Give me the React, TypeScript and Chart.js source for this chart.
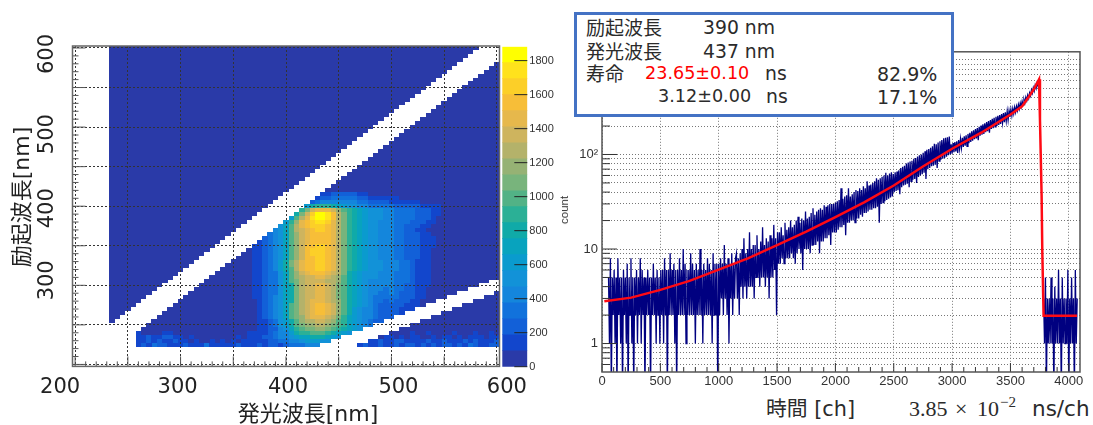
import React, { useEffect, useRef } from "react";
import { Chart, registerables } from "chart.js";

Chart.register(...registerables);

const SANS = '"DejaVu Sans","Noto Sans CJK JP",sans-serif';
const ROOT_FONT = '"Liberation Sans",Arial,sans-serif';

// ---------- left panel: excitation / emission map ----------
const mapTicks = [200, 250, 300, 350, 400, 450, 500, 550, 600];
const mapMinorTicks = [210, 220, 230, 240, 260, 270, 280, 290, 310, 320, 330, 340, 360, 370, 380, 390, 410, 420, 430, 440, 460, 470, 480, 490, 510, 520, 530, 540, 560, 570, 580, 590];
const mapXLabels = [200, 300, 400, 500, 600];
const mapXLabelShift = [-15, -3, 2, 7, 10];
const mapYLabels = [300, 400, 500, 600];
const mapYLabelShift = [-5, 2, 7, 6];
const mapXTitle = "発光波長[nm]";
const mapYTitle = "励起波長[nm]";

const levelColors = ["#2A3AA8", "#1246CC", "#1260D8", "#1172DC", "#1486DC", "#1292D8", "#0A9BCE", "#08A3BE", "#10AAA8", "#2BB096", "#52B286", "#78B47C", "#96B274", "#B4B26A", "#CEB45E", "#E6B84C", "#F7BE38", "#FCCF28", "#FFE21C", "#FFFF00"];
const colorbarEdges = [0, 94, 188, 282, 376, 470, 565, 659, 753, 847, 941, 1035, 1129, 1223, 1317, 1411, 1506, 1600, 1694, 1788, 1882];
const colorbarTicks = [0, 200, 400, 600, 800, 1000, 1200, 1400, 1600, 1800];

// rows where the map is flat: excitation, and where the empty diagonal band starts
const flatRowNm = [420, 425, 430, 435, 440, 445, 450, 455, 460, 465, 470, 475, 480, 485, 490, 495, 500, 505, 510, 515, 520, 525, 530, 535, 540, 545, 550, 555, 560, 565, 570, 575, 580, 585, 590, 595, 600];
const flatRowGapNm = [405, 410, 415, 420, 425, 430, 435, 440, 445, 450, 455, 460, 465, 470, 475, 480, 485, 490, 495, 500, 505, 510, 515, 520, 525, 530, 535, 540, 545, 550, 555, 560, 565, 570, 575, 580, 585];

// rows with signal: colour step per 5 nm bin from 200 nm, "." = no data, groups of 50 nm
const heatRowNm = [415, 410, 405, 400, 395, 390, 385, 380, 375, 370, 365, 360, 355, 350, 345, 340, 335, 330, 325, 320, 315, 310, 305, 300, 295, 290, 285, 280, 275, 270, 265, 260, 255, 250, 245, 240, 235, 230, 225];
const heatRows = [
  ".......000 0000000000 0000000000 0000000000 .......112 2222110000 0000000000 0000000000 0",
  ".......000 0000000000 0000000000 000000000. ......1223 3333221111 1100000000 0000000000 0",
  ".......000 0000000000 0000000000 00000000.. .....23444 4444332222 1111110000 0000000000 0",
  ".......000 0000000000 0000000000 0000000... ....689998 7655443333 3222221111 0000000000 0",
  ".......000 0000000000 0000000000 000000.... ...9befffe ca98765554 4333322211 0000000000 0",
  ".......000 0000000000 0000000000 00000..... ..8behjjig db98765554 4333322211 0000000000 0",
  ".......000 0000000000 0000000000 0000...... .6adfijjig db98765554 4333322210 0000000000 0",
  ".......000 0000000000 0000000000 000....... 69cfghiihf db98765544 4333222110 0000000000 0",
  ".......000 0000000000 0000000000 00.......5 7adfghhhgf db98765544 4332221100 0000000000 0",
  ".......000 0000000000 0000000000 0.......45 7adefghhgf db98765544 4332211000 0000000000 0",
  ".......000 0000000000 0000000000 .......345 7acefggggf db98765544 4332221100 0000000000 0",
  ".......000 0000000000 000000000. ......2345 7acefggggf db98765544 4332221110 0000000000 0",
  ".......000 0000000000 00000000.. .....12345 7acefggggf db98765544 4332221110 0000000000 0",
  ".......000 0000000000 0000000... ....112345 7acegghhgf db98765544 4332221110 0000000000 0",
  ".......000 0000000000 000000.... ...0112345 7aceghhhgf db98765544 4332221100 0000000000 0",
  ".......000 0000000000 00000..... ..00112345 7aceghhhgf db98765544 4332221100 0000000000 0",
  ".......000 0000000000 0000...... .000112345 7acegghhgf db98765544 4332221100 0000000000 0",
  ".......000 0000000000 000....... 0000112346 8bdfgghhgf db98765554 4433211100 0000000000 0",
  ".......000 0000000000 00.......0 0000112346 8bdfgghhgf db98765554 4433211100 0000000000 0",
  ".......000 0000000000 0.......00 0000112346 8adfgghhgf db98765554 4433211100 0000000000 0",
  ".......000 0000000000 .......000 0000112335 7acefgggfe db87655544 4333211100 0000000000 0",
  ".......000 000000000. ......0000 0000112335 7acdeeffed ca87655544 4333211100 0000000000 0",
  ".......000 00000000.. .....00000 0000112335 7abdeeeedd ca87654444 4333211100 000000000. .",
  ".......000 0000000... ....000000 0000112335 78bdeeffed ba87654444 4332211100 0000000... .",
  ".......000 000000.... ...0000000 0000112335 78bdeeffed ba87654443 4332211000 00000..... .",
  ".......000 00000..... ..00000000 0000112335 78bdeeffed ba87654433 4322211000 000....... 0",
  ".......000 0000...... .000000000 0000112345 78bdeeffed ba87654333 3322211000 0.......00 0",
  ".......000 000....... 0000000000 0000012345 78bdefffed ca87654332 322211000. ......0000 0",
  ".......000 00.......0 0000000000 0000012345 7abdefggfe ca87654322 2221110... ....000000 0",
  ".......000 0.......00 0000000000 0000012345 7abdefggfe ca86544322 22111..... ..00000000 0",
  ".......000 .......000 0000000000 0000012345 7abdefggfe ca86544322 221....... 0000000000 0",
  ".......00. ......0000 0000000000 0000012345 7abcefffed b976544322 2.......00 0000000000 0",
  ".......0.. .....00000 0000000000 0000011235 68acddeedc a97654322. ......0000 0000000000 0",
  ".......... ....000000 0000000000 0000011235 68abccddcb a976543... ....000000 0000000000 0",
  ".......... ...0000000 0000000000 0000011224 579abbccba 98765..... ..00000000 0000000000 0",
  ".......... ..10000110 0000000000 0001111234 46899aaa98 765....... 0000100100 0010001001 0",
  ".......... ..11211221 1010000000 0101112234 4567788876 5.......01 1010110010 1101011101 1",
  ".......... ..11212112 1101001010 1011111223 344566655. ......1121 1221111211 2111212111 2",
  ".......... ..12132211 1211131111 1211121221 2333444... ....121121 1212212121 2212132112 2",
];

// ---------- right panel: fluorescence decay ----------
const decayXTicks = [0, 500, 1000, 1500, 2000, 2500, 3000, 3500, 4000];
const decayXMinor = [100, 200, 300, 400, 600, 700, 800, 900, 1100, 1200, 1300, 1400, 1600, 1700, 1800, 1900, 2100, 2200, 2300, 2400, 2600, 2700, 2800, 2900, 3100, 3200, 3300, 3400, 3600, 3700, 3800, 3900];
const decayYMajor = [1, 10, 100];
const decayYMinor = [0.6, 0.7, 0.8, 0.9, 2, 3, 4, 5, 6, 7, 8, 9, 20, 30, 40, 50, 60, 70, 80, 90, 200, 300, 400, 500, 600, 700, 800, 900, 1000];

const countsFrom56 = [5, 1, 8, .3, 5, 2, 6, 1, 5, .3, 8, 2, 5, 1, 5, .3, 6, 2, 5, 1, 7, .3, 5, 2, 8, 1, 5, .3, 5, 2, 6, 1, 5, 2, 8, 1, 6, 2, 5, .3, 5, 2, 6, 2, 5, .3, 5, 2, 7, 2, 5, 1, 6, 2, 5, 1];
const countsFrom504 = [6, 2, 6, 1, 8, 2, 6, .3, 6, 2, 9, 2, 6, 2, 7, 1, 6, .3, 6, 2, 8, 2, 6, 2, 10, 2, 7, 1, 6, 2, 6, 2, 9, 2, 7, 2, 6, 1, 7, 2, 6, 2, 10, 2, 6, 1, 7, 2, 6, 2, 8, 2, 7, 2, 6, 1, 9, 2, 7, 2, 7, .3];
const countsFrom1000 = [7, 2, 8, 3, 7, 2, 11, 3, 7, 2, 8, 1, 7, 3, 9, 2, 7, 3, 8];
const countsFrom1152 = [9, 3, 8, 2, 9, 4, 10, 3, 13, 4, 9, 3, 10, 4, 15, 4, 10, 4, 11, 3, 11, 5, 14, 5, 10, 4, 12, 5, 17, 5, 11, 4, 13, 5, 12, 3, 14, 5, 13, 5, 18, 6, 13, 2];
const countsFrom1504 = [15, 7, 15, 7, 17, 8, 14, 7, 19, 8, 16, 8, 17, 8, 20, 9, 17, 8, 18, 7, 20, 9, 22, 10, 19, 9, 21, 6, 20, 10, 25, 10, 21, 10, 22, 9, 24, 11, 27, 11, 23, 11, 25, 12, 26, 9, 27, 12, 26, 12, 29, 13, 28, 13, 29, 14, 30, 11, 30, 15, 30, 15];
const countsFrom2000 = [31, 15, 32, 16, 33, 17, 44, 17, 34, 18, 36, 14, 37, 19, 44, 19, 36, 20, 38, 20, 40, 19, 42, 21, 41, 21, 44, 23, 42, 22, 46, 24, 44, 24, 52, 25, 47, 26, 48, 26, 50, 27, 52, 27, 56, 28, 54, 19, 56, 30, 58, 31, 60, 32, 64, 33, 60, 34, 63, 35, 65, 36];
const countsFrom2496 = [62, 40, 65, 41, 66, 42, 68, 38, 72, 45, 74, 47, 76, 48, 80, 49, 82, 45, 84, 52, 86, 54, 90, 55, 92, 50, 95, 58, 98, 60, 100, 62, 104, 64, 108, 55, 112, 70, 114, 72, 118, 75, 122, 76, 130, 78, 128, 72, 134, 85, 138, 88, 142, 90, 148, 92, 150, 95, 152, 98, 155, 100];
const countsFrom2992 = [128, 102, 132, 106, 135, 108, 138, 104, 142, 115, 146, 118, 150, 120, 156, 124, 160, 122, 165, 132, 170, 136, 176, 140, 180, 145, 186, 148, 190, 142, 196, 158, 202, 162, 208, 165, 214, 172, 220, 176, 226, 170, 232, 186, 238, 190, 244, 196, 250, 200, 256, 205, 262, 210, 268, 216, 274, 220, 280, 226, 286, 232];
const countsFrom3488 = [290, 250, 300, 258, 306, 270, 316, 280, 324, 292, 338, 304, 350, 318, 366, 336, 382, 352, 404, 372, 424, 392, 448, 418, 480, 446, 510, 470, 540, 500, 570, 530, 620];
const countsFrom3784 = [3, 1, 5, .3, 3, 1, 3, 1, 5, 1, 3, .3, 4, 1, 3, 1, 6, 1, 3, .3, 5, 1, 3, 1, 3, 1, 6, .3, 3, 1, 5, 1, 3, .3, 6, 1, 3];

const fitChannels = [20, 250, 500, 750, 1000, 1250, 1500, 1750, 2000, 2250, 2500, 2750, 3000, 3250, 3500, 3600, 3650, 3700, 3745, 3753, 3767, 3773, 3784, 4070];
const fitCounts = [2.8, 3.06, 3.7, 4.6, 6.05, 7.96, 11, 15.3, 21.8, 31.3, 47, 74.6, 115, 170, 265, 324, 395, 490, 624, 234, 37, 9.3, 1.97, 1.97];

function cellSprite(color: string) {
  const c = document.createElement("canvas");
  c.width = 6;
  c.height = 5;
  const g = c.getContext("2d")!;
  g.fillStyle = color;
  g.fillRect(0, 0, 6, 5);
  Object.defineProperty(c, "width", { value: 5.5 });
  Object.defineProperty(c, "height", { value: 4.2 });
  return c;
}

function mapPoints() {
  const pts: { x: number; y: number }[][] = levelColors.map(() => []);
  flatRowNm.forEach((y, r) => {
    const gap = flatRowGapNm[r];
    for (let x = 235; x <= 600; x += 5) {
      if (x < gap || x > gap + 30) pts[0].push({ x, y });
    }
  });
  heatRowNm.forEach((y, r) => {
    Array.from(heatRows[r].replace(/ /g, "")).forEach((ch, c) => {
      if (ch !== ".") pts[parseInt(ch, 36)].push({ x: 200 + 5 * c, y });
    });
  });
  return pts;
}

// inward-pointing ROOT-style ticks and the frame
const frameTicks = {
  id: "frameTicks",
  afterDraw(chart: any, _a: any, o: any) {
    const { ctx, chartArea: a, scales } = chart;
    ctx.save();
    ctx.strokeStyle = o.color;
    ctx.lineWidth = 1;
    const line = (x1: number, y1: number, x2: number, y2: number) => {
      ctx.beginPath();
      ctx.moveTo(x1, y1);
      ctx.lineTo(x2, y2);
      ctx.stroke();
    };
    (o.xMajor || []).forEach((v: number) => { const p = scales.x.getPixelForValue(v); line(p, a.bottom, p, a.bottom - o.xMajorLen); });
    (o.xMinor || []).forEach((v: number) => { const p = scales.x.getPixelForValue(v); line(p, a.bottom, p, a.bottom - o.xMinorLen); });
    (o.yMajor || []).forEach((v: number) => { const p = scales.y.getPixelForValue(v); line(a.left, p, a.left + o.yMajorLen, p); });
    (o.yMinor || []).forEach((v: number) => { const p = scales.y.getPixelForValue(v); line(a.left, p, a.left + o.yMinorLen, p); });
    (o.rightTicks || []).forEach((v: number) => { const p = scales.y.getPixelForValue(v); line(a.right, p, a.right - o.rightLen, p); });
    if (o.frame) {
      ctx.strokeStyle = o.frame;
      ctx.lineWidth = 1.5;
      ctx.strokeRect(a.left, a.top, a.right - a.left, a.bottom - a.top);
    }
    ctx.restore();
  },
};

// the big axis labels of the map were placed by hand in the source figure
const mapText = {
  id: "mapText",
  afterDraw(chart: any) {
    const { ctx, scales: { x, y } } = chart;
    ctx.save();
    ctx.fillStyle = "#222";
    ctx.textAlign = "center";
    ctx.textBaseline = "middle";
    ctx.font = `21px ${SANS}`;
    mapXLabels.forEach((v, i) => ctx.fillText(String(v), x.getPixelForValue(v) + mapXLabelShift[i], 388));
    mapYLabels.forEach((v, i) => {
      ctx.save();
      ctx.translate(48, y.getPixelForValue(v) + mapYLabelShift[i]);
      ctx.rotate(-Math.PI / 2);
      ctx.fillText(String(v), 0, 0);
      ctx.restore();
    });
    ctx.font = `22px ${SANS}`;
    ctx.fillText(mapXTitle, 308, 415);
    ctx.save();
    ctx.translate(23, 197);
    ctx.rotate(-Math.PI / 2);
    ctx.fillText(mapYTitle, 0, 0);
    ctx.restore();
    ctx.restore();
  },
};

const fixW = (w: number) => (s: any) => { s.width = w; };
const fixH = (h: number) => (s: any) => { s.height = h; };

export default function App() {
  const mapRef = useRef<HTMLCanvasElement>(null);
  const barRef = useRef<HTMLCanvasElement>(null);
  const decayRef = useRef<HTMLCanvasElement>(null);

  useEffect(() => {
    const pts = mapPoints();
    const mapChart = new Chart(mapRef.current!, {
      type: "scatter",
      data: {
        datasets: levelColors.map((color, i) => ({
          label: `level ${i}`,
          data: pts[i],
          pointStyle: cellSprite(color) as any,
          pointRadius: 3,
          pointHoverRadius: 3,
        })),
      },
      options: {
        responsive: false,
        animation: false,
        events: [],
        layout: { padding: { left: 0, top: 46, right: 45.5, bottom: 0 } },
        plugins: {
          legend: { display: false },
          tooltip: { enabled: false },
          frameTicks: {
            color: "#555",
            frame: "#666",
            xMajor: mapTicks, xMinor: mapMinorTicks, xMajorLen: 10, xMinorLen: 5,
            yMajor: mapTicks, yMinor: mapMinorTicks, yMajorLen: 13, yMinorLen: 6,
          },
        } as any,
        scales: {
          x: {
            type: "linear", min: 197.5, max: 602.5, afterFit: fixH(58.6),
            afterBuildTicks: (s: any) => { s.ticks = mapTicks.map((value) => ({ value })); },
            ticks: { display: false },
            border: { display: false, dash: [2, 2] },
            grid: { color: "#333", z: 1, drawTicks: false },
          },
          y: {
            type: "linear", min: 197.5, max: 602.5, afterFit: fixW(72.5),
            afterBuildTicks: (s: any) => { s.ticks = mapTicks.map((value) => ({ value })); },
            ticks: { display: false },
            border: { display: false, dash: [2, 2] },
            grid: { color: "#333", z: 1, drawTicks: false },
          },
        },
      },
      plugins: [frameTicks, mapText],
    } as any);

    const barChart = new Chart(barRef.current!, {
      type: "bar",
      data: {
        labels: ["count"],
        datasets: levelColors.map((color, i) => ({
          label: `level ${i}`,
          data: [[colorbarEdges[i], colorbarEdges[i + 1]]],
          backgroundColor: color,
          barPercentage: 1,
          categoryPercentage: 1,
          grouped: false,
        })),
      },
      options: {
        responsive: false,
        animation: false,
        events: [],
        layout: { padding: { left: 7.3, top: 10.7, right: 7.7, bottom: 9.3 } },
        plugins: {
          legend: { display: false },
          tooltip: { enabled: false },
          frameTicks: { color: "#222", rightTicks: colorbarTicks, rightLen: 13 },
        } as any,
        scales: {
          x: { display: false },
          y: {
            position: "right", min: 0, max: 1882, afterFit: fixW(30),
            afterBuildTicks: (s: any) => { s.ticks = colorbarTicks.map((value) => ({ value })); },
            ticks: { font: { family: ROOT_FONT, size: 11 }, color: "#333", padding: 2, callback: (v: any) => String(v) },
            grid: { display: false, drawTicks: false },
            border: { display: false },
          },
        },
      },
      plugins: [frameTicks],
    } as any);

    const histA = [countsFrom56, countsFrom504, countsFrom1000, countsFrom1152, countsFrom1504, countsFrom2000, countsFrom2496, countsFrom2992, countsFrom3488].flat();
    const decayChart = new Chart(decayRef.current!, {
      type: "scatter",
      data: {
        datasets: [
          { label: "fit", data: fitChannels.map((x, i) => ({ x, y: fitCounts[i] })), showLine: true, borderColor: "#FF0A14", borderWidth: 2.5, pointRadius: 0 },
          { label: "counts", data: histA.map((y, i) => ({ x: 56 + 8 * i, y })), showLine: true, borderColor: "#000080", borderWidth: 1.3, pointRadius: 0 },
          { label: "counts tail", data: countsFrom3784.map((y, i) => ({ x: 3784 + 8 * i, y })), showLine: true, borderColor: "#000080", borderWidth: 1.3, pointRadius: 0 },
        ],
      },
      options: {
        responsive: false,
        animation: false,
        events: [],
        layout: { padding: { left: 0, top: 8, right: 13, bottom: 0 } },
        plugins: {
          legend: { display: false },
          tooltip: { enabled: false },
          frameTicks: {
            color: "#333",
            frame: "#555",
            xMajor: decayXTicks, xMinor: decayXMinor, xMajorLen: 9, xMinorLen: 5,
            yMajor: decayYMajor, yMinor: decayYMinor, yMajorLen: 15, yMinorLen: 8,
          },
        } as any,
        scales: {
          x: {
            type: "linear", min: 0, max: 4096, afterFit: fixH(18),
            afterBuildTicks: (s: any) => { s.ticks = decayXTicks.map((value) => ({ value })); },
            ticks: { font: { family: ROOT_FONT, size: 13 }, color: "#333", padding: 2, maxRotation: 0, autoSkip: false, callback: (v: any) => String(v) },
            border: { display: false, dash: [1, 2] },
            grid: { color: "#777", drawTicks: false },
          },
          y: {
            type: "logarithmic", min: 0.5, max: 1220, afterFit: fixW(42),
            afterBuildTicks: (s: any) => { s.ticks = [...decayYMinor, ...decayYMajor].sort((a, b) => a - b).map((value) => ({ value })); },
            ticks: {
              font: { family: ROOT_FONT, size: 13 }, color: "#333", padding: 4, autoSkip: false,
              callback: (v: any) => (v === 1 ? "1" : v === 10 ? "10" : v === 100 ? "10²" : ""),
            },
            border: { display: false, dash: [1, 2] },
            grid: { color: "#777", drawTicks: false },
          },
        },
      },
      plugins: [frameTicks],
    } as any);

    return () => {
      mapChart.destroy();
      barChart.destroy();
      decayChart.destroy();
    };
  }, []);

  const t = (left: number, top: number, size: number, text: React.ReactNode, extra: React.CSSProperties = {}) => (
    <span style={{ position: "absolute", left, top, fontSize: size, lineHeight: 1, whiteSpace: "nowrap", transform: "translateY(-50%)", fontFamily: SANS, color: "#2b2b2b", ...extra }}>{text}</span>
  );
  const SERIF = '"Liberation Serif",serif';

  return (
    <div style={{ position: "fixed", left: 0, top: 0, width: 1093, height: 425, overflow: "hidden", background: "#fff", filter: "blur(0.5px)" }}>
      <canvas ref={mapRef} width={545} height={425} style={{ position: "absolute", left: 0, top: 0 }} />
      <canvas ref={barRef} width={70} height={340} style={{ position: "absolute", left: 495, top: 36 }} />
      <canvas ref={decayRef} width={533} height={350} style={{ position: "absolute", left: 560, top: 40 }} />
      <div style={{ position: "absolute", left: 573.5, top: 12, width: 380, height: 105, boxSizing: "border-box", border: "3px solid #4472C4", background: "#fff" }} />
      {t(586, 28, 19, "励起波長")}
      {t(703, 28, 18.8, "390 nm")}
      {t(586, 52, 19, "発光波長")}
      {t(703, 52, 18.8, "437 nm")}
      {t(586, 74, 19, "寿命")}
      {t(645, 74, 17.6, "23.65±0.10", { color: "#FF0000" })}
      {t(765, 74, 18.8, "ns")}
      {t(877, 74, 19, "82.9%")}
      {t(658, 97, 17.6, "3.12±0.00")}
      {t(766, 97, 18.8, "ns")}
      {t(877, 97, 19, "17.1%")}
      {t(766, 409, 20.8, "時間 [ch]")}
      {t(909, 409, 22, "3.85", { fontFamily: SERIF })}
      {t(955, 409, 22, "×", { fontFamily: SERIF })}
      {t(977, 409, 22, "10", { fontFamily: SERIF })}
      {t(1000, 402, 15, "−2", { fontFamily: SERIF })}
      {t(1032, 409, 21.5, "ns/ch")}
      <span style={{ position: "absolute", left: 564, top: 210, fontSize: 11.5, fontFamily: ROOT_FONT, color: "#333", transform: "translate(-50%,-50%) rotate(-90deg)" }}>count</span>
    </div>
  );
}
